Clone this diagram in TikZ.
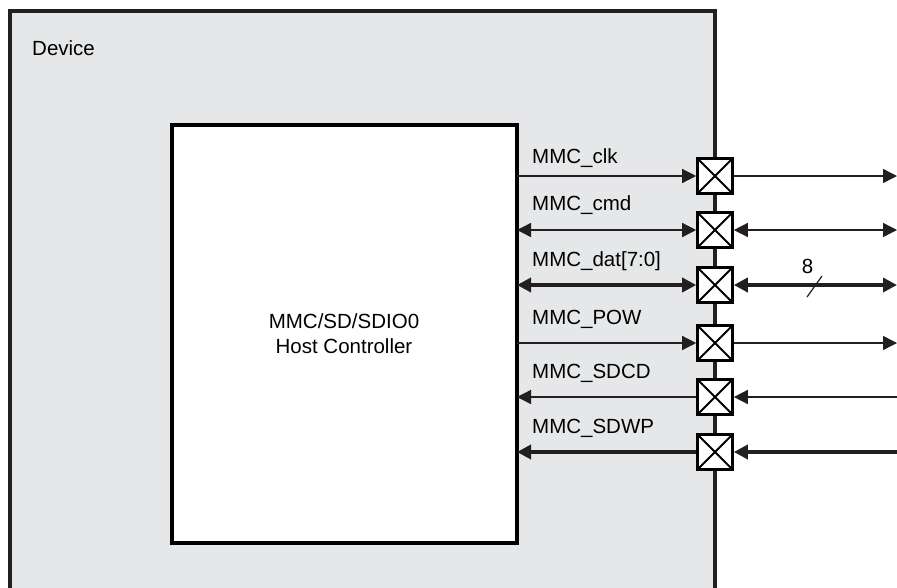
\documentclass[tikz,border=0pt]{standalone}
\usepackage{fontspec}
\setmainfont{Liberation Sans}
\usetikzlibrary{arrows.meta}
\definecolor{devfill}{HTML}{E6E7E8}
\definecolor{ink}{HTML}{231F20}
\begin{document}
\begin{tikzpicture}[x=1pt,y=-1pt,
  every node/.style={font=\fontsize{20.5}{25}\selectfont, text=black},
  devbox/.style={draw=ink, line width=3.5pt, fill=devfill},
  hostbox/.style={draw=black, line width=4pt, fill=white},
  pad/.style={draw=black, line width=2.6pt, fill=white, rectangle, minimum width=35pt, minimum height=35pt, inner sep=0pt,
    path picture={\draw[line width=2pt] (path picture bounding box.south west) -- (path picture bounding box.north east)
                   (path picture bounding box.north west) -- (path picture bounding box.south east);}},
  sig/.style={draw=ink, line width=1.4pt},
  bus/.style={draw=ink, line width=4pt},
  tip/.style={-{Triangle[length=14pt,width=14pt]}},
  biti/.style={{Triangle[length=14pt,width=14pt]}-{Triangle[length=14pt,width=14pt]}},
  rtip/.style={{Triangle[length=14pt,width=14pt]}-},
  lbl/.style={anchor=base west, inner sep=0pt}
]
\useasboundingbox (0,0) rectangle (897,587);
% device
\fill[devfill] (10,11) rectangle (715,590);
\draw[devbox, fill=none] (10,590) -- (10,11) -- (715,11) -- (715,590);
\node[lbl] (devlbl) at (32,55) {Device};
% host
\node[hostbox, minimum width=345.5pt, minimum height=418.5pt, anchor=north west, inner sep=0pt] (host) at (169.5,122.5) {};
\node[align=center, inner sep=0pt] (hostlbl) at (344,334) {MMC/SD/SDIO0\\Host Controller};
% pads
\node[pad] (p1) at (715,176) {};
\node[pad] (p2) at (715,230) {};
\node[pad] (p3) at (715,285) {};
\node[pad] (p4) at (715,343) {};
\node[pad] (p5) at (715,397) {};
\node[pad] (p6) at (715,452) {};
% left ends on host
\coordinate (h1) at (517,176);
\coordinate (h2) at (517,230);
\coordinate (h3) at (517,285);
\coordinate (h4) at (517,343);
\coordinate (h5) at (517,397);
\coordinate (h6) at (517,452);
% right ends
\coordinate (e1) at (897,176);
\coordinate (e2) at (897,230);
\coordinate (e3) at (897,285);
\coordinate (e4) at (897,343);
\coordinate (e5) at (897,397);
\coordinate (e6) at (897,452);
% clk
\draw[sig, tip] (h1) -- (p1.west);
\draw[sig, tip] (p1.east) -- (e1);
% cmd
\draw[sig, biti] (h2) -- (p2.west);
\draw[sig, biti] (p2.east) -- (e2);
% dat
\draw[bus, biti] (h3) -- (p3.west);
\draw[bus, biti] (p3.east) -- (e3);
\coordinate (s1) at (807,297);
\coordinate (s2) at (822,276);
\draw[ink, line width=1.2pt] (s1) -- (s2);
\node[inner sep=0pt] (eight) at (807.5,266) {8};
% POW
\draw[sig, tip] (h4) -- (p4.west);
\draw[sig, tip] (p4.east) -- (e4);
% SDCD
\draw[sig, rtip] (h5) -- (p5.west);
\draw[sig, rtip] (p5.east) -- (e5);
% SDWP
\draw[bus, rtip] (h6) -- (p6.west);
\draw[bus, rtip] (p6.east) -- (e6);
% labels
\node[lbl] (l1) at (532,163) {MMC\_clk};
\node[lbl] (l2) at (532,210) {MMC\_cmd};
\node[lbl] (l3) at (532,266) {MMC\_dat[7:0]};
\node[lbl] (l4) at (532,324) {MMC\_POW};
\node[lbl] (l5) at (532,378) {MMC\_SDCD};
\node[lbl] (l6) at (532,433) {MMC\_SDWP};
\end{tikzpicture}
\end{document}
